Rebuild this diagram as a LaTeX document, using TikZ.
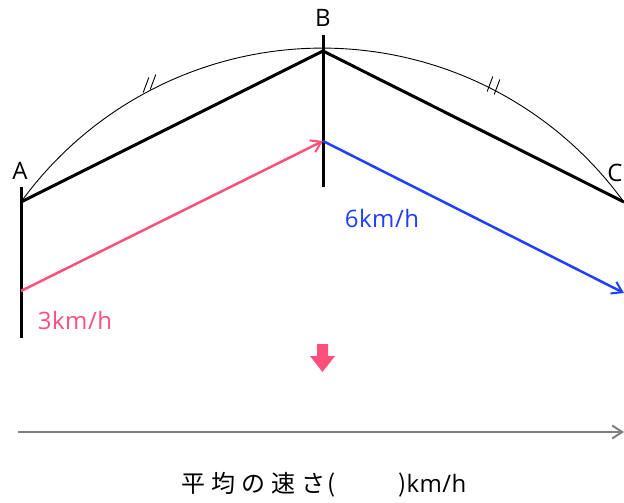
\documentclass[tikz,border=0pt]{standalone}
\usepackage{fontspec}
\setmainfont{Open Sans}
\newfontfamily\cjk{Noto Sans CJK JP}
\usetikzlibrary{arrows.meta}
\definecolor{pinkred}{HTML}{FF4F7B}
\definecolor{bluearr}{HTML}{1F3FFF}
\definecolor{grayarr}{HTML}{7F7F7F}
\begin{document}
\begin{tikzpicture}[x=1pt,y=-1pt,
  blk/.style={line width=3pt,black},
  arcline/.style={line width=0.9pt,black},
  vel/.style={line width=2.5pt,-{Straight Barb[length=10pt,width=13pt,line width=2pt]}},
  lbl/.style={font=\fontsize{24}{24}\selectfont\addfontfeature{LetterSpace=2}, inner sep=0pt},
  tick/.style={line width=0.9pt}]
\useasboundingbox (0,0) rectangle (624,503);
% points
\coordinate (A) at (21,202);
\coordinate (B) at (323,51);
\coordinate (C) at (624,202);
\coordinate (Atop) at (21,187);
\coordinate (Abot) at (21,338);
\coordinate (Btop) at (323,35);
\coordinate (Bbot) at (323,187);
\coordinate (Pa) at (21,291);
\coordinate (Pb) at (323,141);
\coordinate (Pc) at (624,293);
% arc
\draw[arcline] (A) arc[start angle=215.9,end angle=324.1,radius=372.1];
% tick marks
\foreach \x/\y in {146/85, 153/82, 490/84, 497/87}{
  \draw[tick] (\x-2.8,\y+7.5) -- (\x+2.8,\y-7.5);
}
% verticals
\draw[blk] (Atop) -- (Abot);
\draw[blk] (Btop) -- (Bbot);
% black segments
\draw[blk,line join=round] (A) -- (B) -- (C);
% velocity arrows
\draw[vel,pinkred] (Pa) -- (Pb);
\draw[vel,bluearr] (Pb) -- (Pc);
% labels
\node[lbl,anchor=center] (la) at (20,171) {A};
\node[lbl,anchor=center] (lb) at (323,18) {B};
\node[lbl,anchor=center] (lc) at (615,173) {C};
\node[lbl,pinkred,anchor=center] (v1) at (75,320) {3km/h};
\node[lbl,bluearr,anchor=center] (v2) at (382,218) {6km/h};
% down block arrow
\fill[pinkred] (317,344) -- (328,344) -- (328,356) -- (335,356) -- (322.5,372) -- (310,356) -- (317,356) -- cycle;
% bottom axis arrow
\coordinate (G0) at (18,432);
\coordinate (G1) at (624,432);
\draw[grayarr,line width=2.4pt,-{Straight Barb[length=10pt,width=13pt,line width=2pt]}] (G0) -- (G1);
% bottom text
\node[lbl,anchor=center] (ans) at (324,485) {{\cjk 平\hspace{0.25em}均\hspace{0.25em}の\hspace{0.25em}速\hspace{0.25em}さ\hspace{0.1em}(}\hspace{2.6em}{\cjk )}km/h};
\end{tikzpicture}
\end{document}
